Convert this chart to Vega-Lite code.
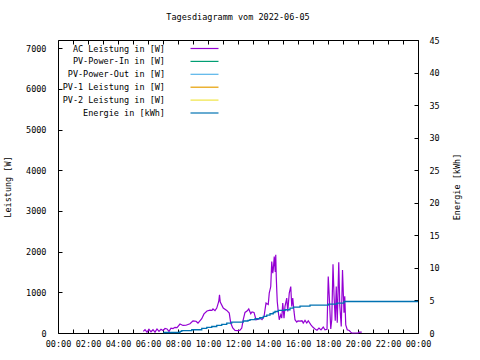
{
  "$schema": "https://vega.github.io/schema/vega-lite/v6.json",
  "width": 360,
  "height": 293,
  "autosize": "none",
  "padding": {"left": 58, "top": 40, "right": 62, "bottom": 27},
  "background": "white",
  "config": {
    "font": "DejaVu Sans Mono",
    "view": {"stroke": "black", "strokeWidth": 1},
    "axis": {
      "labelFont": "DejaVu Sans Mono",
      "labelFontSize": 8.5,
      "labelColor": "black",
      "titleFont": "DejaVu Sans Mono",
      "titleFontSize": 8.5,
      "titleFontWeight": "normal",
      "titleColor": "black",
      "tickColor": "black",
      "domain": false,
      "grid": false
    }
  },
  "title": {
    "text": "Tagesdiagramm vom 2022-06-05",
    "font": "DejaVu Sans Mono",
    "fontSize": 8.5,
    "fontWeight": "normal",
    "color": "black",
    "anchor": "middle",
    "offset": 15
  },
  "datasets": {
    "ac": [
      {"t": "2022-06-05T05:41", "w": 40, "series": "AC Leistung in [W]"},
      {"t": "2022-06-05T05:48", "w": 80, "series": "AC Leistung in [W]"},
      {"t": "2022-06-05T05:56", "w": 20, "series": "AC Leistung in [W]"},
      {"t": "2022-06-05T06:04", "w": 90, "series": "AC Leistung in [W]"},
      {"t": "2022-06-05T06:12", "w": 30, "series": "AC Leistung in [W]"},
      {"t": "2022-06-05T06:20", "w": 80, "series": "AC Leistung in [W]"},
      {"t": "2022-06-05T06:28", "w": 20, "series": "AC Leistung in [W]"},
      {"t": "2022-06-05T06:36", "w": 100, "series": "AC Leistung in [W]"},
      {"t": "2022-06-05T06:44", "w": 40, "series": "AC Leistung in [W]"},
      {"t": "2022-06-05T06:52", "w": 90, "series": "AC Leistung in [W]"},
      {"t": "2022-06-05T07:00", "w": 60, "series": "AC Leistung in [W]"},
      {"t": "2022-06-05T07:08", "w": 110, "series": "AC Leistung in [W]"},
      {"t": "2022-06-05T07:16", "w": 100, "series": "AC Leistung in [W]"},
      {"t": "2022-06-05T07:24", "w": 40, "series": "AC Leistung in [W]"},
      {"t": "2022-06-05T07:32", "w": 120, "series": "AC Leistung in [W]"},
      {"t": "2022-06-05T07:40", "w": 110, "series": "AC Leistung in [W]"},
      {"t": "2022-06-05T07:48", "w": 140, "series": "AC Leistung in [W]"},
      {"t": "2022-06-05T07:56", "w": 130, "series": "AC Leistung in [W]"},
      {"t": "2022-06-05T08:08", "w": 220, "series": "AC Leistung in [W]"},
      {"t": "2022-06-05T08:20", "w": 186, "series": "AC Leistung in [W]"},
      {"t": "2022-06-05T08:32", "w": 190, "series": "AC Leistung in [W]"},
      {"t": "2022-06-05T08:48", "w": 228, "series": "AC Leistung in [W]"},
      {"t": "2022-06-05T09:00", "w": 300, "series": "AC Leistung in [W]"},
      {"t": "2022-06-05T09:12", "w": 290, "series": "AC Leistung in [W]"},
      {"t": "2022-06-05T09:20", "w": 245, "series": "AC Leistung in [W]"},
      {"t": "2022-06-05T09:35", "w": 350, "series": "AC Leistung in [W]"},
      {"t": "2022-06-05T09:44", "w": 470, "series": "AC Leistung in [W]"},
      {"t": "2022-06-05T09:56", "w": 540, "series": "AC Leistung in [W]"},
      {"t": "2022-06-05T10:08", "w": 560, "series": "AC Leistung in [W]"},
      {"t": "2022-06-05T10:16", "w": 555, "series": "AC Leistung in [W]"},
      {"t": "2022-06-05T10:20", "w": 590, "series": "AC Leistung in [W]"},
      {"t": "2022-06-05T10:28", "w": 550, "series": "AC Leistung in [W]"},
      {"t": "2022-06-05T10:35", "w": 612, "series": "AC Leistung in [W]"},
      {"t": "2022-06-05T10:43", "w": 775, "series": "AC Leistung in [W]"},
      {"t": "2022-06-05T10:46", "w": 940, "series": "AC Leistung in [W]"},
      {"t": "2022-06-05T10:49", "w": 760, "series": "AC Leistung in [W]"},
      {"t": "2022-06-05T11:01", "w": 612, "series": "AC Leistung in [W]"},
      {"t": "2022-06-05T11:15", "w": 555, "series": "AC Leistung in [W]"},
      {"t": "2022-06-05T11:25", "w": 490, "series": "AC Leistung in [W]"},
      {"t": "2022-06-05T11:31", "w": 245, "series": "AC Leistung in [W]"},
      {"t": "2022-06-05T11:39", "w": 122, "series": "AC Leistung in [W]"},
      {"t": "2022-06-05T11:48", "w": 64, "series": "AC Leistung in [W]"},
      {"t": "2022-06-05T12:00", "w": 60, "series": "AC Leistung in [W]"},
      {"t": "2022-06-05T12:08", "w": 70, "series": "AC Leistung in [W]"},
      {"t": "2022-06-05T12:15", "w": 122, "series": "AC Leistung in [W]"},
      {"t": "2022-06-05T12:21", "w": 326, "series": "AC Leistung in [W]"},
      {"t": "2022-06-05T12:28", "w": 505, "series": "AC Leistung in [W]"},
      {"t": "2022-06-05T12:36", "w": 540, "series": "AC Leistung in [W]"},
      {"t": "2022-06-05T12:43", "w": 590, "series": "AC Leistung in [W]"},
      {"t": "2022-06-05T12:51", "w": 473, "series": "AC Leistung in [W]"},
      {"t": "2022-06-05T12:56", "w": 520, "series": "AC Leistung in [W]"},
      {"t": "2022-06-05T13:04", "w": 505, "series": "AC Leistung in [W]"},
      {"t": "2022-06-05T13:12", "w": 326, "series": "AC Leistung in [W]"},
      {"t": "2022-06-05T13:21", "w": 341, "series": "AC Leistung in [W]"},
      {"t": "2022-06-05T13:28", "w": 380, "series": "AC Leistung in [W]"},
      {"t": "2022-06-05T13:36", "w": 330, "series": "AC Leistung in [W]"},
      {"t": "2022-06-05T13:44", "w": 400, "series": "AC Leistung in [W]"},
      {"t": "2022-06-05T13:52", "w": 735, "series": "AC Leistung in [W]"},
      {"t": "2022-06-05T14:01", "w": 700, "series": "AC Leistung in [W]"},
      {"t": "2022-06-05T14:05", "w": 980, "series": "AC Leistung in [W]"},
      {"t": "2022-06-05T14:11", "w": 1142, "series": "AC Leistung in [W]"},
      {"t": "2022-06-05T14:15", "w": 1755, "series": "AC Leistung in [W]"},
      {"t": "2022-06-05T14:19", "w": 1470, "series": "AC Leistung in [W]"},
      {"t": "2022-06-05T14:21", "w": 1550, "series": "AC Leistung in [W]"},
      {"t": "2022-06-05T14:25", "w": 1877, "series": "AC Leistung in [W]"},
      {"t": "2022-06-05T14:29", "w": 1500, "series": "AC Leistung in [W]"},
      {"t": "2022-06-05T14:31", "w": 1920, "series": "AC Leistung in [W]"},
      {"t": "2022-06-05T14:33", "w": 1390, "series": "AC Leistung in [W]"},
      {"t": "2022-06-05T14:35", "w": 1060, "series": "AC Leistung in [W]"},
      {"t": "2022-06-05T14:37", "w": 775, "series": "AC Leistung in [W]"},
      {"t": "2022-06-05T14:41", "w": 530, "series": "AC Leistung in [W]"},
      {"t": "2022-06-05T14:45", "w": 326, "series": "AC Leistung in [W]"},
      {"t": "2022-06-05T14:51", "w": 448, "series": "AC Leistung in [W]"},
      {"t": "2022-06-05T14:55", "w": 365, "series": "AC Leistung in [W]"},
      {"t": "2022-06-05T14:59", "w": 735, "series": "AC Leistung in [W]"},
      {"t": "2022-06-05T15:04", "w": 365, "series": "AC Leistung in [W]"},
      {"t": "2022-06-05T15:08", "w": 653, "series": "AC Leistung in [W]"},
      {"t": "2022-06-05T15:15", "w": 857, "series": "AC Leistung in [W]"},
      {"t": "2022-06-05T15:19", "w": 530, "series": "AC Leistung in [W]"},
      {"t": "2022-06-05T15:25", "w": 980, "series": "AC Leistung in [W]"},
      {"t": "2022-06-05T15:31", "w": 1142, "series": "AC Leistung in [W]"},
      {"t": "2022-06-05T15:35", "w": 653, "series": "AC Leistung in [W]"},
      {"t": "2022-06-05T15:39", "w": 857, "series": "AC Leistung in [W]"},
      {"t": "2022-06-05T15:44", "w": 530, "series": "AC Leistung in [W]"},
      {"t": "2022-06-05T15:48", "w": 326, "series": "AC Leistung in [W]"},
      {"t": "2022-06-05T15:55", "w": 270, "series": "AC Leistung in [W]"},
      {"t": "2022-06-05T16:00", "w": 300, "series": "AC Leistung in [W]"},
      {"t": "2022-06-05T16:08", "w": 290, "series": "AC Leistung in [W]"},
      {"t": "2022-06-05T16:16", "w": 300, "series": "AC Leistung in [W]"},
      {"t": "2022-06-05T16:21", "w": 245, "series": "AC Leistung in [W]"},
      {"t": "2022-06-05T16:28", "w": 310, "series": "AC Leistung in [W]"},
      {"t": "2022-06-05T16:35", "w": 245, "series": "AC Leistung in [W]"},
      {"t": "2022-06-05T16:41", "w": 300, "series": "AC Leistung in [W]"},
      {"t": "2022-06-05T16:51", "w": 204, "series": "AC Leistung in [W]"},
      {"t": "2022-06-05T16:59", "w": 147, "series": "AC Leistung in [W]"},
      {"t": "2022-06-05T17:08", "w": 100, "series": "AC Leistung in [W]"},
      {"t": "2022-06-05T17:16", "w": 70, "series": "AC Leistung in [W]"},
      {"t": "2022-06-05T17:24", "w": 120, "series": "AC Leistung in [W]"},
      {"t": "2022-06-05T17:32", "w": 75, "series": "AC Leistung in [W]"},
      {"t": "2022-06-05T17:41", "w": 147, "series": "AC Leistung in [W]"},
      {"t": "2022-06-05T17:48", "w": 80, "series": "AC Leistung in [W]"},
      {"t": "2022-06-05T17:56", "w": 90, "series": "AC Leistung in [W]"},
      {"t": "2022-06-05T18:01", "w": 1390, "series": "AC Leistung in [W]"},
      {"t": "2022-06-05T18:05", "w": 900, "series": "AC Leistung in [W]"},
      {"t": "2022-06-05T18:11", "w": 100, "series": "AC Leistung in [W]"},
      {"t": "2022-06-05T18:15", "w": 326, "series": "AC Leistung in [W]"},
      {"t": "2022-06-05T18:20", "w": 1690, "series": "AC Leistung in [W]"},
      {"t": "2022-06-05T18:24", "w": 940, "series": "AC Leistung in [W]"},
      {"t": "2022-06-05T18:29", "w": 300, "series": "AC Leistung in [W]"},
      {"t": "2022-06-05T18:33", "w": 1140, "series": "AC Leistung in [W]"},
      {"t": "2022-06-05T18:37", "w": 250, "series": "AC Leistung in [W]"},
      {"t": "2022-06-05T18:43", "w": 1740, "series": "AC Leistung in [W]"},
      {"t": "2022-06-05T18:47", "w": 695, "series": "AC Leistung in [W]"},
      {"t": "2022-06-05T18:53", "w": 160, "series": "AC Leistung in [W]"},
      {"t": "2022-06-05T18:58", "w": 1550, "series": "AC Leistung in [W]"},
      {"t": "2022-06-05T19:04", "w": 500, "series": "AC Leistung in [W]"},
      {"t": "2022-06-05T19:07", "w": 900, "series": "AC Leistung in [W]"},
      {"t": "2022-06-05T19:11", "w": 200, "series": "AC Leistung in [W]"},
      {"t": "2022-06-05T19:17", "w": 80, "series": "AC Leistung in [W]"},
      {"t": "2022-06-05T19:25", "w": 60, "series": "AC Leistung in [W]"},
      {"t": "2022-06-05T19:31", "w": 20, "series": "AC Leistung in [W]"},
      {"t": "2022-06-05T19:35", "w": 0, "series": "AC Leistung in [W]"},
      {"t": "2022-06-05T20:00", "w": 0, "series": "AC Leistung in [W]"},
      {"t": "2022-06-05T20:05", "w": 20, "series": "AC Leistung in [W]"},
      {"t": "2022-06-05T20:15", "w": 20, "series": "AC Leistung in [W]"}
    ],
    "en": [
      {"t": "2022-06-05T07:01", "e": 0.08, "series": "Energie in [kWh]"},
      {"t": "2022-06-05T08:08", "e": 0.25, "series": "Energie in [kWh]"},
      {"t": "2022-06-05T08:15", "e": 0.35, "series": "Energie in [kWh]"},
      {"t": "2022-06-05T08:55", "e": 0.5, "series": "Energie in [kWh]"},
      {"t": "2022-06-05T09:35", "e": 0.7, "series": "Energie in [kWh]"},
      {"t": "2022-06-05T09:55", "e": 0.86, "series": "Energie in [kWh]"},
      {"t": "2022-06-05T10:15", "e": 1.0, "series": "Energie in [kWh]"},
      {"t": "2022-06-05T10:35", "e": 1.16, "series": "Energie in [kWh]"},
      {"t": "2022-06-05T10:55", "e": 1.32, "series": "Energie in [kWh]"},
      {"t": "2022-06-05T11:15", "e": 1.53, "series": "Energie in [kWh]"},
      {"t": "2022-06-05T11:35", "e": 1.68, "series": "Energie in [kWh]"},
      {"t": "2022-06-05T12:21", "e": 1.84, "series": "Energie in [kWh]"},
      {"t": "2022-06-05T12:40", "e": 1.93, "series": "Energie in [kWh]"},
      {"t": "2022-06-05T12:48", "e": 2.04, "series": "Energie in [kWh]"},
      {"t": "2022-06-05T13:08", "e": 2.19, "series": "Energie in [kWh]"},
      {"t": "2022-06-05T13:28", "e": 2.34, "series": "Energie in [kWh]"},
      {"t": "2022-06-05T13:41", "e": 2.54, "series": "Energie in [kWh]"},
      {"t": "2022-06-05T13:55", "e": 2.75, "series": "Energie in [kWh]"},
      {"t": "2022-06-05T14:08", "e": 2.96, "series": "Energie in [kWh]"},
      {"t": "2022-06-05T14:21", "e": 3.15, "series": "Energie in [kWh]"},
      {"t": "2022-06-05T14:28", "e": 3.3, "series": "Energie in [kWh]"},
      {"t": "2022-06-05T14:41", "e": 3.46, "series": "Energie in [kWh]"},
      {"t": "2022-06-05T15:08", "e": 3.57, "series": "Energie in [kWh]"},
      {"t": "2022-06-05T15:28", "e": 3.83, "series": "Energie in [kWh]"},
      {"t": "2022-06-05T15:41", "e": 3.98, "series": "Energie in [kWh]"},
      {"t": "2022-06-05T16:08", "e": 4.13, "series": "Energie in [kWh]"},
      {"t": "2022-06-05T16:48", "e": 4.29, "series": "Energie in [kWh]"},
      {"t": "2022-06-05T18:01", "e": 4.44, "series": "Energie in [kWh]"},
      {"t": "2022-06-05T18:35", "e": 4.59, "series": "Energie in [kWh]"},
      {"t": "2022-06-05T19:04", "e": 4.84, "series": "Energie in [kWh]"},
      {"t": "2022-06-06T00:00", "e": 4.84, "series": "Energie in [kWh]"}
    ]
  },
  "layer": [
    {
      "data": {"name": "ac"},
      "mark": {"type": "line", "strokeWidth": 1.2},
      "encoding": {
        "x": {
          "field": "t", "type": "temporal",
          "scale": {"domain": ["2022-06-05T00:00", "2022-06-06T00:00"], "nice": false},
          "axis": {
            "title": null,
            "format": "%H:%M",
            "tickCount": 24,
            "labelExpr": "hours(datum.value) % 2 == 0 ? datum.label : ''",
            "tickSize": -4, "labelPadding": 10, "labelFlush": false, "labelOverlap": false
          }
        },
        "y": {
          "field": "w", "type": "quantitative",
          "scale": {"domain": [0, 7200], "nice": false},
          "axis": {
            "title": "Leistung [W]",
            "format": "d",
            "values": [0, 1000, 2000, 3000, 4000, 5000, 6000, 7000],
            "tickSize": -4, "labelPadding": 16, "titlePadding": 13
          }
        },
        "color": {
          "field": "series", "type": "nominal",
          "scale": {
            "domain": ["AC Leistung in [W]", "PV-Power-In in [W]", "PV-Power-Out in [W]", "PV-1 Leistung in [W]", "PV-2 Leistung in [W]", "Energie in [kWh]"],
            "range": ["#9400d3", "#009e73", "#56b4e9", "#e69f00", "#f0e442", "#0072b2"]
          },
          "legend": {
            "title": null,
            "orient": "none",
            "legendX": 141,
            "legendY": 3,
            "padding": 0,
            "direction": "vertical",
            "symbolType": "M-3,0H3",
            "symbolSize": 87,
            "symbolStrokeWidth": 1.2,
            "labelAlign": "right",
            "labelOffset": -45,
            "labelFont": "DejaVu Sans Mono",
            "labelFontSize": 8.5,
            "labelColor": "black",
            "labelLimit": 200,
            "rowPadding": 2.9
          }
        }
      }
    },
    {
      "data": {"name": "en"},
      "mark": {"type": "line", "interpolate": "step-after", "strokeWidth": 1.3},
      "encoding": {
        "x": {
          "field": "t", "type": "temporal",
          "axis": {"orient": "top", "title": null, "labels": false, "tickCount": 24, "tickSize": -4}
        },
        "y": {
          "field": "e", "type": "quantitative",
          "scale": {"domain": [0, 45], "nice": false},
          "axis": {
            "orient": "right",
            "title": "Energie [kWh]",
            "titleAngle": 270,
            "values": [0, 5, 10, 15, 20, 25, 30, 35, 40, 45],
            "tickSize": -4, "labelPadding": 15, "titlePadding": 22
          }
        },
        "color": {
          "field": "series", "type": "nominal",
          "scale": {
            "domain": ["AC Leistung in [W]", "PV-Power-In in [W]", "PV-Power-Out in [W]", "PV-1 Leistung in [W]", "PV-2 Leistung in [W]", "Energie in [kWh]"],
            "range": ["#9400d3", "#009e73", "#56b4e9", "#e69f00", "#f0e442", "#0072b2"]
          }
        }
      }
    }
  ],
  "resolve": {"scale": {"y": "independent"}, "axis": {"x": "independent"}}
}
